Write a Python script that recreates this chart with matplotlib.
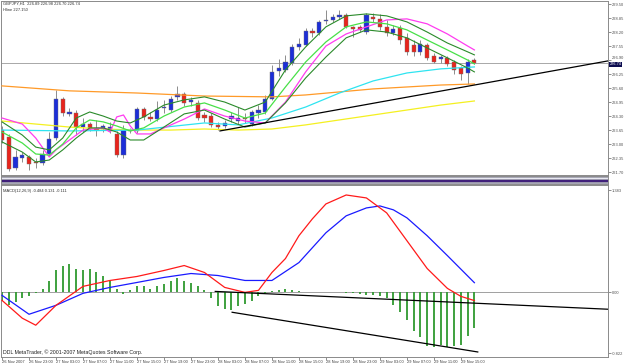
import matplotlib
matplotlib.use('Agg')
import matplotlib.pyplot as plt

# GBPJPY H1, one entry per bar (26 Nov 19:00 .. 29 Nov 17:00)
opens = [223.65, 223.33, 221.89, 222.35, 222.40, 222.17, 222.12, 222.54, 223.28, 225.09,
         224.40, 224.44, 223.79, 223.93, 223.75, 223.70, 223.61, 223.47, 222.49, 223.61,
         223.61, 224.63, 224.26, 224.16, 224.68, 224.58, 225.19, 225.33, 224.95, 224.91,
         224.35, 224.30, 223.89, 223.84, 224.16, 224.07, 224.21, 223.93, 224.44, 224.49,
         225.09, 226.39, 226.44, 226.76, 227.51, 227.60, 228.25, 228.16, 228.71, 228.76,
         228.90, 228.99, 228.44, 228.44, 228.20, 228.90, 228.81, 228.44, 228.16, 228.39,
         227.93, 227.60, 227.28, 227.60, 227.09, 226.95, 226.99, 226.81, 226.53, 226.30,
         226.89]
highs = [223.84, 223.47, 222.73, 222.63, 222.49, 222.35, 222.73, 223.56, 225.51, 225.19,
         224.68, 224.58, 224.21, 224.03, 224.12, 223.93, 224.03, 223.61, 223.89, 223.75,
         224.72, 224.72, 224.49, 225.00, 225.05, 225.23, 225.70, 225.42, 225.19, 225.05,
         224.49, 224.44, 224.03, 224.12, 224.49, 224.72, 224.44, 224.58, 224.81, 225.28,
         226.67, 226.95, 227.14, 227.65, 227.93, 228.39, 228.39, 228.76, 229.23, 229.04,
         229.23, 229.09, 228.48, 228.53, 229.09, 229.09, 229.04, 228.76, 228.53, 228.53,
         228.16, 227.83, 227.83, 227.69, 227.23, 227.14, 227.09, 226.90, 226.63, 226.95,
         226.98]
lows = [223.05, 221.75, 221.80, 222.17, 221.80, 221.89, 222.03, 222.45, 223.19, 224.30,
        224.30, 223.42, 223.56, 223.61, 223.37, 223.56, 223.51, 222.40, 222.35, 223.51,
        223.51, 224.12, 224.07, 224.07, 224.44, 224.49, 225.05, 224.77, 224.77, 224.12,
        224.03, 223.79, 223.65, 223.75, 224.03, 223.93, 223.98, 223.84, 224.21, 224.40,
        225.05, 226.17, 226.35, 226.67, 227.37, 227.55, 227.97, 228.07, 228.58, 228.67,
        228.81, 228.39, 227.97, 228.20, 228.11, 228.67, 228.30, 228.02, 228.07, 227.65,
        227.14, 227.09, 227.14, 226.90, 226.76, 226.76, 226.63, 226.25, 225.98, 225.79,
        226.70]
closes = [223.19, 221.84, 222.40, 222.49, 222.07, 222.12, 222.54, 223.24, 225.09, 224.44,
          224.49, 223.79, 223.93, 223.75, 223.65, 223.84, 223.79, 222.49, 223.65, 223.65,
          224.63, 224.26, 224.16, 224.58, 224.72, 225.09, 225.33, 224.91, 225.05, 224.21,
          224.21, 223.89, 223.79, 223.98, 224.30, 224.21, 224.16, 224.49, 224.58, 225.09,
          226.35, 226.53, 226.81, 227.51, 227.65, 228.25, 228.16, 228.67, 228.76, 228.90,
          228.99, 228.44, 228.34, 228.30, 228.99, 228.81, 228.44, 228.16, 228.34, 227.83,
          227.28, 227.28, 227.65, 226.99, 226.81, 227.04, 226.72, 226.44, 226.25, 226.81,
          226.74]

# moving averages (bar index -> price)
magenta_idx = [0, 3, 5, 7, 8, 10, 12, 15, 16, 17, 18, 19, 20, 22, 24, 27, 30, 33, 36, 39,
               42, 45, 48, 51, 54, 57, 60, 63, 66, 69, 70]
magenta_val = [224.21, 223.93, 223.28, 222.40, 222.73, 223.19, 223.65, 223.75, 223.56, 224.26,
               224.35, 223.84, 223.47, 223.47, 223.75, 224.16, 224.63, 224.30, 224.07, 223.98,
               224.95, 226.35, 227.55, 228.11, 228.44, 228.76, 228.81, 228.58, 228.11, 227.55,
               227.37]

green_idx = [0, 3, 5, 7, 9, 11, 13, 15, 17, 19, 21, 24, 27, 30, 33, 36, 39, 42, 45, 48,
             51, 54, 57, 60, 63, 66, 69, 70]
green_up = [224.03, 223.42, 222.86, 222.73, 223.28, 224.21, 224.49, 224.30, 224.07, 223.98,
            224.26, 224.81, 225.05, 225.19, 224.95, 224.58, 224.95, 226.44, 227.51, 228.44,
            228.95, 229.04, 228.95, 228.67, 228.20, 227.69, 227.28, 227.14]
green_mid = [223.56, 223.05, 222.54, 222.49, 223.00, 223.75, 224.12, 224.03, 223.84, 223.61,
             223.75, 224.30, 224.72, 224.91, 224.58, 224.21, 224.44, 225.65, 226.81, 227.74,
             228.44, 228.67, 228.58, 228.30, 227.83, 227.37, 226.90, 226.72]
green_dn = [223.10, 222.63, 222.17, 222.26, 222.73, 223.28, 223.75, 223.75, 223.56, 223.19,
            223.19, 223.79, 224.40, 224.58, 224.16, 223.79, 223.98, 224.91, 226.07, 227.04,
            227.93, 228.30, 228.20, 227.93, 227.46, 227.00, 226.53, 226.35]

cyan_idx = [0, 10, 20, 30, 35, 40, 45, 50, 55, 60, 65, 70]
cyan_val = [223.65, 223.61, 223.65, 223.98, 223.89, 224.21, 224.72, 225.37, 225.93, 226.30,
            226.49, 226.58]

orange_idx = [0, 10, 20, 30, 40, 45, 50, 55, 60, 65, 70]
orange_val = [225.70, 225.47, 225.37, 225.23, 225.19, 225.28, 225.42, 225.56, 225.65, 225.74,
              225.79]

yellow_idx = [0, 5, 10, 15, 20, 25, 30, 35, 40, 45, 50, 55, 60, 65, 70]
yellow_val = [224.07, 223.93, 223.79, 223.70, 223.65, 223.65, 223.70, 223.65, 223.70, 223.89,
              224.12, 224.35, 224.58, 224.81, 225.00]

trend_x = [32.3, 89.8]
trend_y = [223.61, 226.86]

# MACD pane
macd_hist = [-0.11, -0.17, -0.13, -0.08, -0.05, -0.01, 0.05, 0.16, 0.30, 0.35,
             0.39, 0.32, 0.30, 0.32, 0.27, 0.22, 0.16, 0.05, -0.02, 0.03,
             0.08, 0.08, 0.05, 0.08, 0.11, 0.16, 0.19, 0.16, 0.13, 0.08,
             0.03, -0.08, -0.19, -0.23, -0.24, -0.19, -0.16, -0.11, -0.05, -0.01,
             0.02, 0.03, 0.04, 0.03, 0.02, 0.01, 0.01, 0.00, 0.00, 0.00,
             0.00, -0.01, -0.01, -0.02, -0.03, -0.03, -0.05, -0.08, -0.17, -0.27,
             -0.38, -0.52, -0.60, -0.73, -0.74, -0.71, -0.74, -0.73, -0.71, -0.59,
             -0.48]
red_idx = [0, 3, 5, 8, 12, 16, 20, 24, 27, 30, 33, 36, 38, 40, 42, 44, 46, 48, 51, 54,
           57, 60, 63, 66, 68, 70]
red_val = [-0.108, -0.349, -0.444, -0.175, 0.081, 0.161, 0.215, 0.296, 0.363, 0.269,
           0.067, 0.0, 0.027, 0.269, 0.457, 0.766, 0.995, 1.196, 1.317, 1.277,
           1.075, 0.699, 0.323, 0.054, -0.054, -0.111]
blue_idx = [0, 4, 8, 12, 16, 20, 24, 28, 32, 36, 40, 44, 48, 51, 54, 56, 58, 60, 63, 66, 70]
blue_val = [-0.040, -0.296, -0.175, -0.013, 0.067, 0.134, 0.202, 0.255, 0.228, 0.161,
            0.161, 0.403, 0.806, 1.035, 1.142, 1.169, 1.116, 1.008, 0.766, 0.497, 0.131]
mtrend1_x = [31.6, 89.8]
mtrend1_y = [0.013, -0.228]
mtrend2_x = [34.1, 70.5]
mtrend2_y = [-0.269, -0.806]

price_ticks = [229.50, 228.85, 228.20, 227.55, 226.90, 226.25, 225.60, 224.95, 224.30,
               223.65, 223.00, 222.35, 221.70]
macd_ticks = [1.383, 0.0, -0.822]
macd_tick_labels = ['1.383', '0.00', '-0.822']
label_bars = [0, 4, 8, 12, 16, 20, 24, 28, 32, 36, 40, 44, 48, 52, 56, 60, 64, 68]
time_labels = ['26 Nov 2007', '26 Nov 23:00', '27 Nov 03:00', '27 Nov 07:00', '27 Nov 11:00',
               '27 Nov 15:00', '27 Nov 19:00', '27 Nov 23:00', '28 Nov 03:00', '28 Nov 07:00',
               '28 Nov 11:00', '28 Nov 15:00', '28 Nov 19:00', '28 Nov 23:00', '29 Nov 03:00',
               '29 Nov 07:00', '29 Nov 11:00', '29 Nov 15:00']

plt.rcParams['font.family'] = ['Liberation Sans', 'DejaVu Sans']
FS = 2.9
W, H = 625, 364
fig = plt.figure(figsize=(W / 100, H / 100), dpi=100)
fig.patch.set_facecolor('white')

def box(x0, y0, x1, y1):
    # pixel box -> figure fraction
    return [x0 / W, 1 - y1 / H, (x1 - x0) / W, (y1 - y0) / H]

ax = fig.add_axes(box(1, 1, 608, 175))
strip = fig.add_axes(box(1, 176, 608, 184))
axm = fig.add_axes(box(1, 185, 608, 357))
XL = (-0.15, 89.8)

# ---- price pane ----
ax.axhline(closes[-1], color='#a8a8a8', lw=0.7, zorder=1)
for i in range(len(opens)):
    o, h, l, c = opens[i], highs[i], lows[i], closes[i]
    col = '#1c2ed8' if c > o else '#e8241c'
    ax.vlines(i, l, h, color='#8c8c8c', lw=0.7, zorder=2)
    if abs(c - o) < 0.02:
        ax.hlines(o, i - 0.3, i + 0.3, color='#8c8c8c', lw=0.8, zorder=2)
    else:
        ax.bar(i, abs(c - o), bottom=min(o, c), width=0.62, color=col,
               edgecolor='#707070', linewidth=0.3, zorder=2)

ax.plot(yellow_idx, yellow_val, color='#f4f020', lw=0.9, zorder=3)
ax.plot(orange_idx, orange_val, color='#ff9a28', lw=0.9, zorder=3)
ax.plot(cyan_idx, cyan_val, color='#2ee4f0', lw=0.9, zorder=3)
ax.plot(magenta_idx, magenta_val, color='#ff3cf0', lw=0.9, zorder=3)
ax.plot(green_idx, green_up, color='#2a8a2a', lw=0.8, zorder=3)
ax.plot(green_idx, green_dn, color='#2a8a2a', lw=0.8, zorder=3)
ax.plot(green_idx, green_mid, color='#48e048', lw=0.9, zorder=3)
ax.plot(trend_x, trend_y, color='black', lw=0.9, zorder=4)

ax.set_xlim(*XL)
ax.set_ylim(221.565, 229.64)
ax.set_xticks([])
ax.yaxis.tick_right()
ax.set_yticks(price_ticks)
ax.set_yticklabels(['%.2f' % t for t in price_ticks])
ax.tick_params(axis='y', length=2, width=0.5, pad=1, labelsize=FS, colors='#606060',
               labelcolor='#505050')
# the 226.90 label sits just above the bid box: nudge it up a little
for lab in ax.get_yticklabels():
    if lab.get_text() == '226.90':
        lab.set_va('bottom')
ax.annotate('%.2f' % closes[-1], xy=(1.0, closes[-1]), xycoords=('axes fraction', 'data'),
            xytext=(1.2, -0.6), textcoords='offset points', fontsize=2.8, color='white',
            va='center', ha='left',
            bbox=dict(boxstyle='square,pad=0.1', fc='#0c0c50', ec='none'))
ax.text(0.003, 0.995, 'GBPJPY,H1  226.89 226.98 226.70 226.74', transform=ax.transAxes,
        fontsize=FS, va='top', ha='left', color='#303030')
ax.text(0.003, 0.96, 'Hline 227.150', transform=ax.transAxes,
        fontsize=FS, va='top', ha='left', color='#303030')

# ---- thin indicator strip ----
strip.set_facecolor('#a6a6b4')
strip.set_xlim(*XL)
strip.set_ylim(0, 1)
strip.axhline(0.35, color='#40207a', lw=1.6)
strip.axhline(0.75, color='#e8e8f0', lw=0.8)
strip.set_xticks([])
strip.set_yticks([])

# ---- MACD pane ----
axm.axhline(0, color='#a0a0a0', lw=0.7, zorder=1)
axm.vlines(range(len(macd_hist)), 0, macd_hist, color='#2f9a2f', lw=1.3, zorder=2)
axm.plot(blue_idx, blue_val, color='#1a1aff', lw=0.9, zorder=3)
axm.plot(red_idx, red_val, color='#ff1a1a', lw=0.9, zorder=3)
axm.plot(mtrend1_x, mtrend1_y, color='black', lw=0.9, zorder=4)
axm.plot(mtrend2_x, mtrend2_y, color='black', lw=0.9, zorder=4)
axm.set_xlim(*XL)
axm.set_ylim(-0.874, 1.452)
axm.yaxis.tick_right()
axm.set_yticks(macd_ticks)
axm.set_yticklabels(macd_tick_labels)
axm.tick_params(axis='y', length=2, width=0.5, pad=1, labelsize=FS, colors='#606060',
                labelcolor='#505050')
axm.set_xticks(label_bars)
axm.set_xticklabels(time_labels, ha='left')
axm.tick_params(axis='x', length=2, width=0.5, pad=0.5, labelsize=2.9, colors='#606060',
                labelcolor='#404040')
axm.text(0.003, 0.975, 'MACD(12,26,9) -0.484 0.131 -0.111', transform=axm.transAxes,
         fontsize=FS, va='top', ha='left', color='#303030')
axm.text(0.004, 0.012, 'DDL MetaTrader, \u00a9 2001-2007 MetaQuotes Software Corp.',
         transform=axm.transAxes, fontsize=3.8, va='bottom', ha='left', color='#202020')

for a in (ax, strip, axm):
    for s in a.spines.values():
        s.set_color('#8a8a8a')
        s.set_linewidth(0.7)

fig.savefig('out.png', dpi=100, facecolor='white')
